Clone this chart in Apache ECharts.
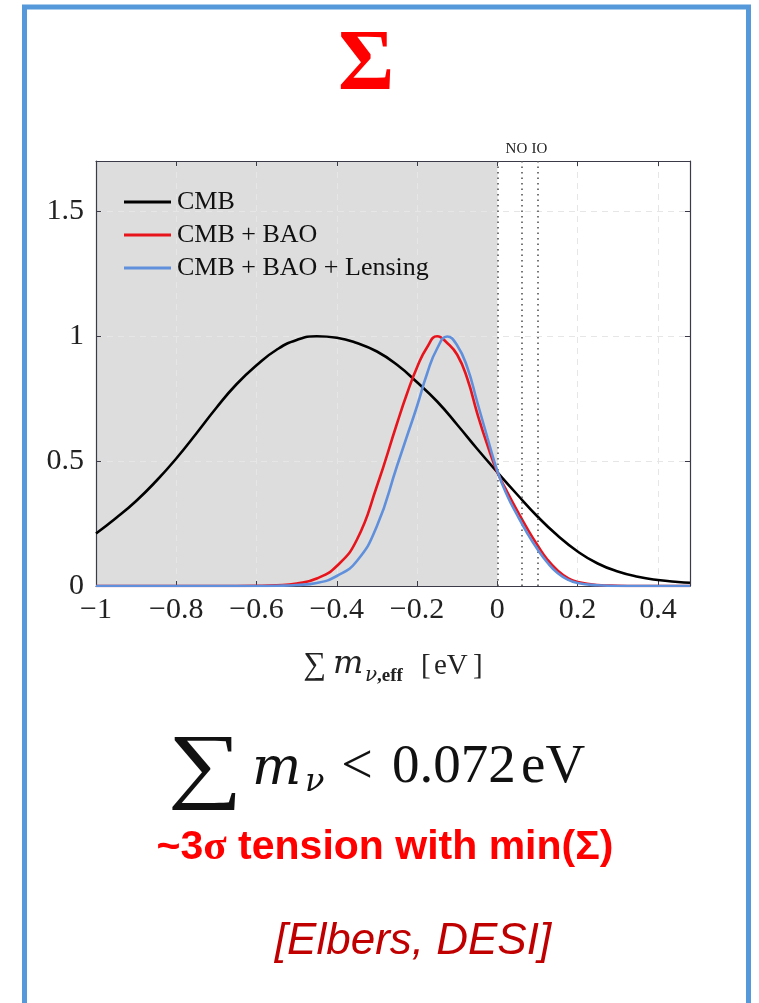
<!DOCTYPE html>
<html>
<head>
<meta charset="utf-8">
<script src="https://cdn.jsdelivr.net/npm/echarts@6/dist/echarts.min.js"></script>
<style>
  html, body { margin: 0; padding: 0; background: #ffffff; }
  #chart { width: 759px; height: 1003px; }
</style>
</head>
<body>
<div id="chart"></div>
<script>
// Posterior of the effective neutrino mass sum, normalised to peak = 1
const seriesNames = ['CMB', 'CMB + BAO', 'CMB + BAO + Lensing'];

const cmbX = [-1.00, -0.95, -0.90, -0.85, -0.80, -0.75, -0.70, -0.65, -0.60, -0.55, -0.50, -0.45, -0.40, -0.35, -0.30, -0.25, -0.20, -0.15, -0.10, -0.05, 0.00, 0.05, 0.10, 0.15, 0.20, 0.25, 0.30, 0.35, 0.40, 0.45, 0.48];
const cmbY = [0.21, 0.272, 0.34, 0.42, 0.51, 0.61, 0.713, 0.807, 0.883, 0.945, 0.984, 0.999, 0.993, 0.972, 0.938, 0.885, 0.815, 0.738, 0.645, 0.548, 0.455, 0.365, 0.278, 0.202, 0.138, 0.09, 0.058, 0.037, 0.024, 0.016, 0.013];

const baoX = [-1.0, -0.7, -0.6, -0.55, -0.5, -0.45, -0.4, -0.35, -0.3, -0.25, -0.225, -0.2, -0.175, -0.15, -0.125, -0.1, -0.075, -0.05, -0.025, 0, 0.025, 0.05, 0.075, 0.1, 0.125, 0.15, 0.175, 0.2, 0.25, 0.3, 0.35, 0.48];
const baoY = [0, 0, 0.001, 0.003, 0.01, 0.03, 0.08, 0.185, 0.40, 0.65, 0.77, 0.875, 0.955, 0.999, 0.972, 0.925, 0.83, 0.69, 0.565, 0.455, 0.375, 0.3, 0.228, 0.163, 0.105, 0.062, 0.032, 0.016, 0.004, 0.001, 0, 0];

const lensX = [-1.0, -0.7, -0.6, -0.55, -0.5, -0.45, -0.4, -0.35, -0.3, -0.25, -0.225, -0.2, -0.175, -0.15, -0.125, -0.1, -0.075, -0.05, -0.025, 0, 0.025, 0.05, 0.075, 0.1, 0.125, 0.15, 0.175, 0.2, 0.25, 0.3, 0.35, 0.48];
const lensY = [0, 0, 0, 0.001, 0.004, 0.012, 0.04, 0.1, 0.24, 0.48, 0.60, 0.72, 0.85, 0.95, 0.998, 0.962, 0.875, 0.735, 0.595, 0.46, 0.36, 0.282, 0.21, 0.147, 0.093, 0.052, 0.026, 0.012, 0.003, 0, 0, 0];

const xTicks = [-1, -0.8, -0.6, -0.4, -0.2, 0, 0.2, 0.4];
const xTickLabels = ['\u22121', '\u22120.8', '\u22120.6', '\u22120.4', '\u22120.2', '0', '0.2', '0.4'];
const yTicks = [0, 0.5, 1, 1.5];
const yTickLabels = ['0', '0.5', '1', '1.5'];

// unphysical (negative) region and the minimal masses of the two orderings
const negativeRange = [-1, 0];
const orderingLines = [
  { name: '', value: 0 },
  { name: 'NO', value: 0.059 },
  { name: 'IO', value: 0.1 }
];

const colors = ['#000000', '#e8141c', '#6090dc'];
const serif = '"Liberation Serif", "DejaVu Serif", serif';
const mathItalic = '"DejaVu Serif", "Liberation Serif", serif';
const sans = '"Liberation Sans", Arial, sans-serif';
const axisColor = '#3a3a48';

function pair(xs, ys) { return xs.map((x, i) => [x, ys[i]]); }
function tickText(v, ticks, labels) {
  for (let i = 0; i < ticks.length; i++) {
    if (Math.abs(v - ticks[i]) < 1e-6) return labels[i];
  }
  return '';
}
function txt(x, y, text, font, fill, align, extra) {
  return Object.assign({
    type: 'text', x: x, y: y, z: 100, silent: true,
    style: { text: text, font: font, fill: fill, textAlign: align || 'left', textVerticalAlign: 'middle' }
  }, extra || {});
}

const chart = echarts.init(document.getElementById('chart'), null, { renderer: 'canvas' });

const gridSplit = { show: true, lineStyle: { color: '#e6e6e6', width: 1, type: [6, 5] } };

const curveSeries = [[cmbX, cmbY], [baoX, baoY], [lensX, lensY]].map((d, i) => ({
  name: seriesNames[i],
  type: 'line',
  data: pair(d[0], d[1]),
  smooth: 0.5,
  showSymbol: false,
  symbol: 'none',
  clip: true,
  z: 3 + i,
  lineStyle: { color: colors[i], width: 2.6 },
  itemStyle: { color: colors[i] }
}));

curveSeries[0].markLine = {
  silent: true,
  symbol: ['none', 'none'],
  animation: false,
  lineStyle: { color: '#555555', width: 1.6, type: [1.5, 4] },
  label: {
    show: true,
    position: 'end',
    distance: 4,
    color: '#222222',
    fontFamily: serif,
    fontSize: 15,
    formatter: p => p.name
  },
  data: orderingLines.map(o => ({
    name: o.name,
    xAxis: o.value,
    label: { offset: o.name === 'NO' ? [-5, 0] : [2, 0] }
  }))
};

const option = {
  animation: false,
  backgroundColor: '#ffffff',
  grid: { left: 96, right: 69, top: 161, bottom: 417, containLabel: false },
  legend: {
    data: seriesNames,
    orient: 'vertical',
    left: 124,
    top: 189,
    padding: 0,
    icon: 'rect',
    itemWidth: 47,
    itemHeight: 3,
    itemGap: 7,
    selectedMode: false,
    textStyle: { fontFamily: serif, fontSize: 26, color: '#111111', padding: [0, 0, 0, 1] }
  },
  xAxis: [
    {
      type: 'value', position: 'bottom', min: -1, max: 0.48, interval: 0.2,
      axisLine: { show: true, onZero: false, lineStyle: { color: axisColor, width: 1.2 } },
      axisTick: { show: true, inside: true, length: 5, lineStyle: { color: axisColor } },
      axisLabel: {
        show: true, margin: 9, color: '#222222', fontFamily: serif, fontSize: 30,
        formatter: v => tickText(v, xTicks, xTickLabels)
      },
      splitLine: gridSplit
    },
    {
      type: 'value', position: 'top', min: -1, max: 0.48, interval: 0.2,
      axisLine: { show: true, onZero: false, lineStyle: { color: axisColor, width: 1.2 } },
      axisTick: { show: true, inside: true, length: 5, lineStyle: { color: axisColor } },
      axisLabel: { show: false },
      splitLine: { show: false }
    }
  ],
  yAxis: [
    {
      type: 'value', position: 'left', min: 0, max: 1.7, interval: 0.5,
      axisLine: { show: true, onZero: false, lineStyle: { color: axisColor, width: 1.2 } },
      axisTick: { show: true, inside: true, length: 5, lineStyle: { color: axisColor } },
      axisLabel: {
        show: true, margin: 12, color: '#222222', fontFamily: serif, fontSize: 30,
        formatter: v => tickText(v, yTicks, yTickLabels)
      },
      splitLine: gridSplit
    },
    {
      type: 'value', position: 'right', min: 0, max: 1.7, interval: 0.5,
      axisLine: { show: true, onZero: false, lineStyle: { color: axisColor, width: 1.2 } },
      axisTick: { show: true, inside: true, length: 5, lineStyle: { color: axisColor } },
      axisLabel: { show: false },
      splitLine: { show: false }
    }
  ],
  series: [
    {
      name: 'negative-region',
      type: 'line',
      data: [],
      z: -1,
      silent: true,
      markArea: {
        silent: true,
        z: -1,
        itemStyle: { color: '#dddddd' },
        data: [[{ xAxis: negativeRange[0] }, { xAxis: negativeRange[1] }]]
      }
    }
  ].concat(curveSeries),
  graphic: [
    {
      type: 'rect', silent: true, z: 100,
      shape: { x: 24.5, y: 7, width: 724, height: 1010 },
      style: { fill: 'none', stroke: '#5599db', lineWidth: 5 }
    },
    txt(366, 67, '\u03A3', 'bold 86px ' + serif, '#ff0000', 'center'),

    // axis title: sum m_{nu,eff} [eV]
    txt(315, 666, '\u2211', '32px ' + serif, '#222222', 'center'),
    txt(333, 665, 'm', 'italic 32px ' + mathItalic, '#222222'),
    txt(365, 676, '\u03BD', 'italic 20px ' + mathItalic, '#222222'),
    txt(377, 676, ',eff', 'bold 19px ' + serif, '#222222'),
    txt(421, 666, '[', '29px ' + serif, '#222222'),
    txt(434, 666, 'eV', '29px ' + serif, '#222222'),
    txt(473, 666, ']', '29px ' + serif, '#222222'),

    // bound: sum m_nu < 0.072 eV
    txt(205, 770, '\u2211', '84px ' + serif, '#111111', 'center', { scaleX: 1.25 }),
    txt(252, 770, 'm', 'italic 52px ' + mathItalic, '#111111'),
    txt(305, 783, '\u03BD', 'italic 32px ' + mathItalic, '#111111'),
    txt(357, 768, '<', '56px ' + serif, '#111111', 'center'),
    txt(392, 768, '0.072', '55px ' + serif, '#111111'),
    txt(521, 768, 'eV', '55px ' + serif, '#111111'),

    {
      type: 'text', x: 385, y: 848, z: 100, silent: true,
      style: {
        text: '~3{g|\u03C3} tension with min(\u03A3)',
        font: 'bold 41px ' + sans, fill: '#ff0000', textAlign: 'center', textVerticalAlign: 'middle',
        rich: { g: { fontFamily: serif, fontWeight: 'bold', fontSize: 43, fill: '#ff0000' } }
      }
    },
    txt(413, 942, '[Elbers, DESI]', 'italic 44px ' + sans, '#c00000', 'center')
  ]
};

chart.setOption(option);
</script>
</body>
</html>
